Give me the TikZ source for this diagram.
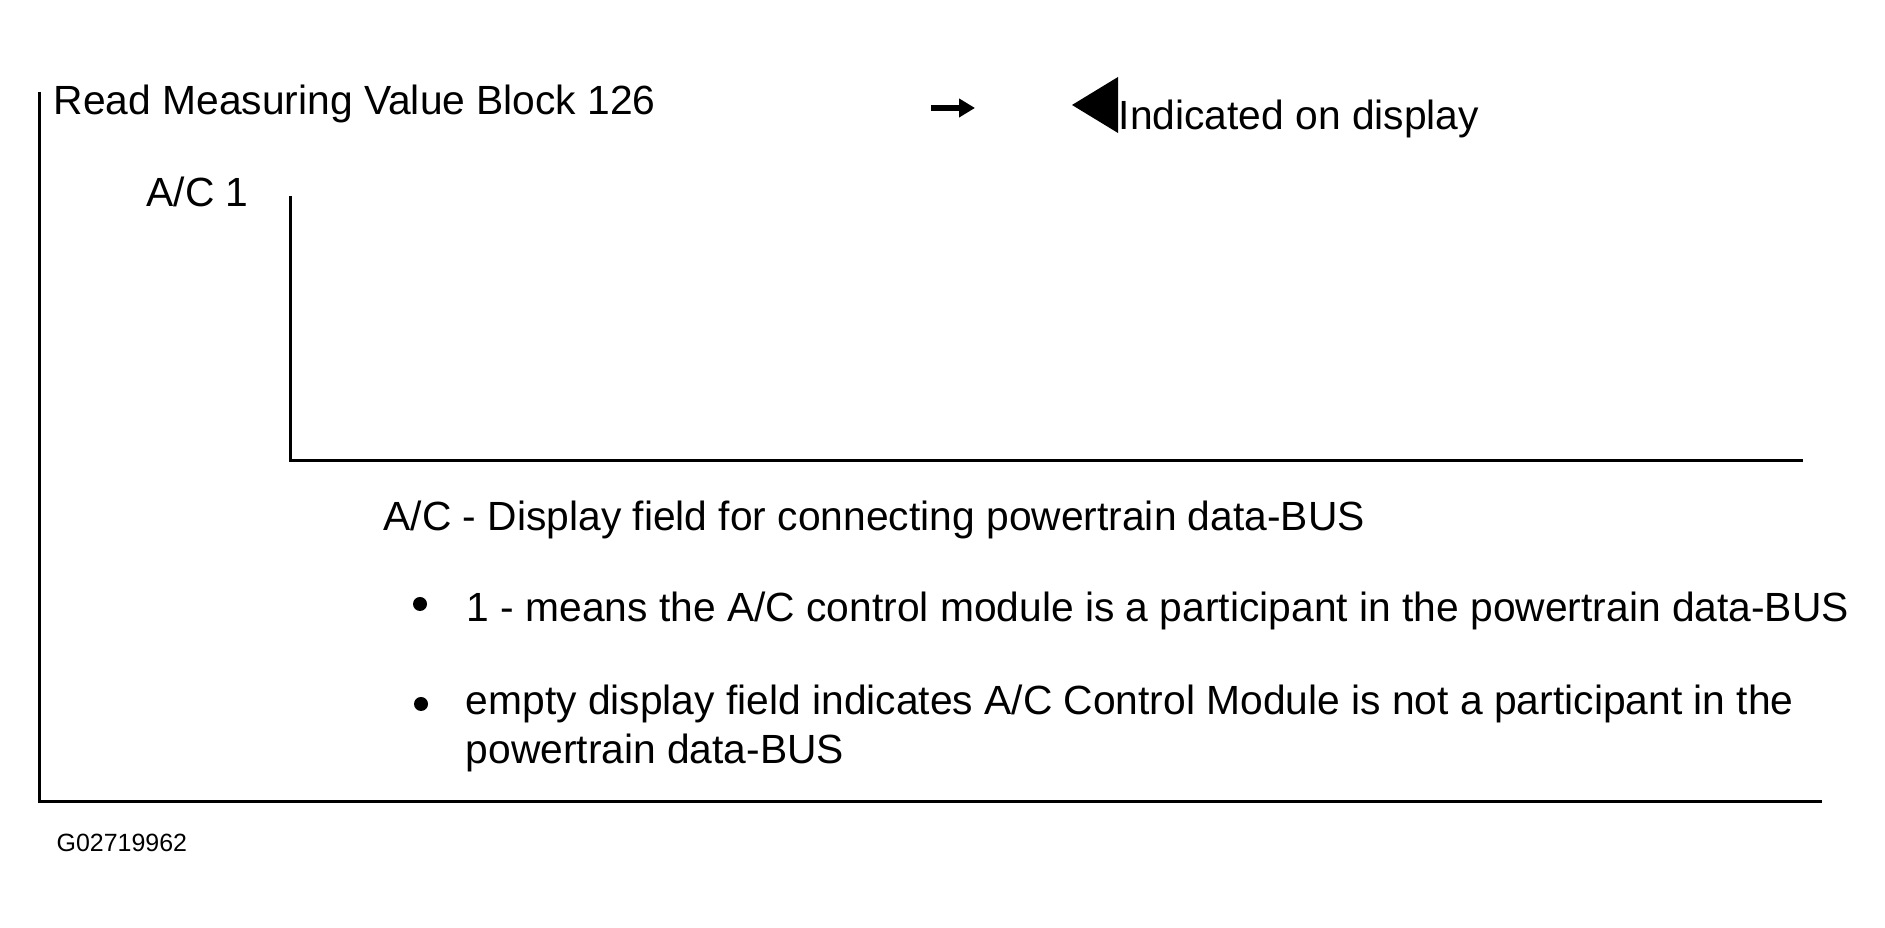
\documentclass[tikz,border=0pt]{standalone}
\usepackage{fontspec}
\setmainfont{Liberation Sans}
\usetikzlibrary{arrows.meta}
\tikzset{txt/.style={inner sep=0, anchor=base west, font=\fontsize{11.6}{14}\selectfont}}

\begin{document}
\begin{tikzpicture}
		%%%%% START %%%%%
		\useasboundingbox (0, 0) rectangle (18.85, -9.28);
		
		\draw[line width=0.3mm] (0.39, -0.92) -- (0.39, -8.02) -- (18.22, -8.02);
		\draw[line width=0.3mm] (2.90, -1.96) -- (2.90, -4.61) -- (18.03, -4.61);
		
		\node[txt] (title) at (0.53, -1.15) {Read Measuring Value Block 126};
		\draw[line width=0.55mm, -{Triangle[length=1.6mm, width=1.8mm]}] (9.31, -1.08) -- (9.75, -1.08);
		\fill (10.72, -1.05) -- (11.18, -0.77) -- (11.18, -1.33) -- cycle;
		\node[txt] (indicated) at (11.18, -1.30) {Indicated on display};
		
		\node[txt] (acone) at (1.46, -2.07) {A/C 1};
		
		\node[txt] (caption) at (3.83, -5.31) {A/C - Display field for connecting powertrain data-BUS};
		
		\fill (4.20, -6.04) circle (0.07);
		\node[txt] (itemone) at (4.66, -6.22) {1 - means the A/C control module is a participant in the powertrain data-BUS};
		
		\fill (4.21, -7.04) circle (0.07);
		\node[txt] (itemtwo) at (4.65, -7.15) {empty display field indicates A/C Control Module is not a participant in the};
		\node[txt] (itemtwob) at (4.65, -7.64) {powertrain data-BUS};
		
		\node[txt, font=\fontsize{7.1}{9}\selectfont] (figid) at (0.56, -8.52) {G02719962};
		
		%%%%% END %%%%%
	\end{tikzpicture}
\end{document}
